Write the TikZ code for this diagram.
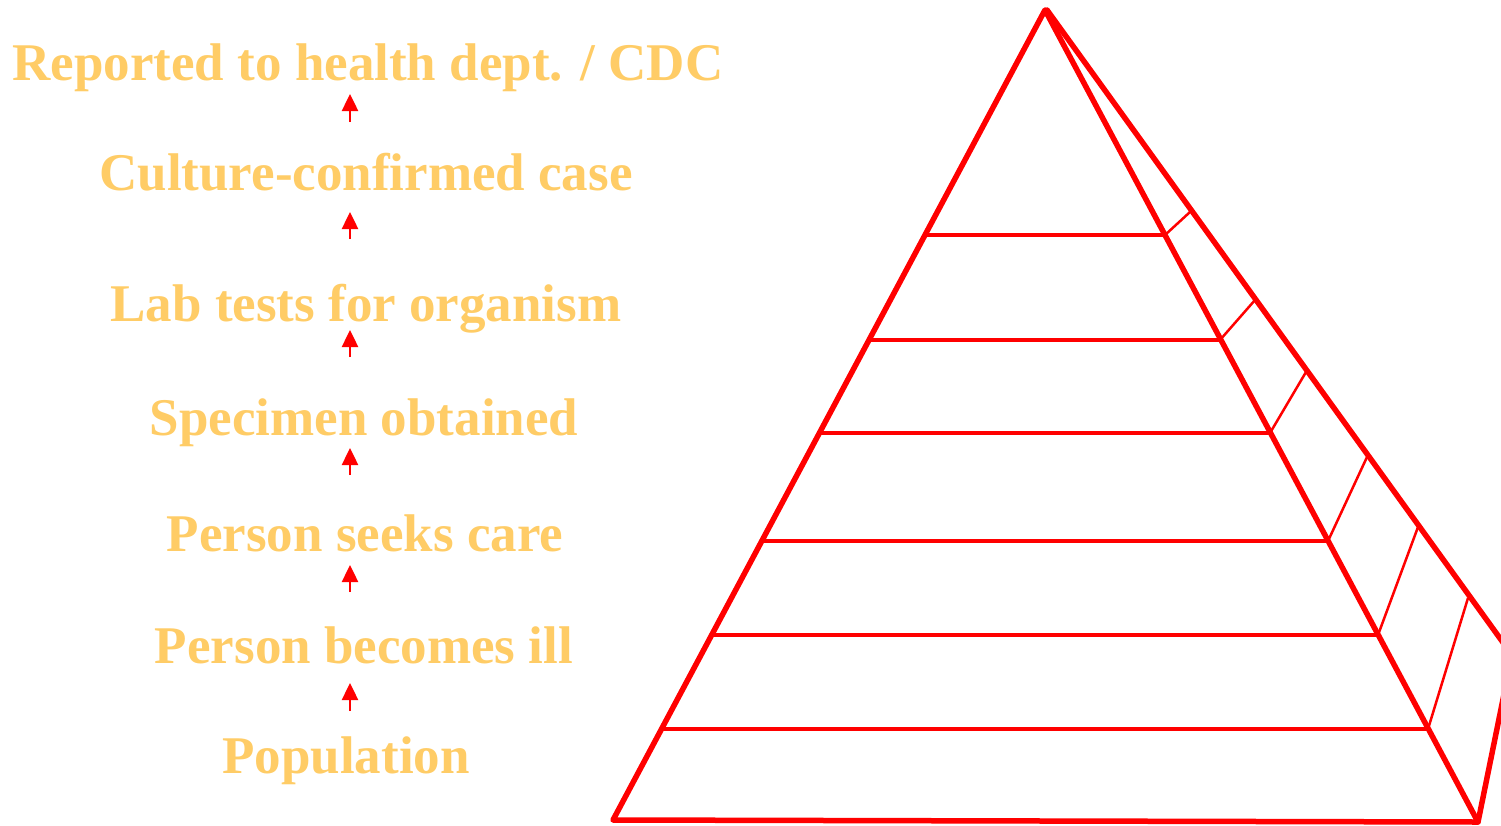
\documentclass[tikz,border=0pt]{standalone}
\usepackage{fontspec}
\setmainfont{Liberation Serif}
\usetikzlibrary{arrows.meta}
\definecolor{lab}{HTML}{FFCC66}
\definecolor{pr}{HTML}{FF0000}
\begin{document}
\begin{tikzpicture}[x=1pt,y=-1pt,
  lbl/.style={text=lab,font=\fontsize{53}{60}\selectfont\bfseries,inner sep=0pt,anchor=base},
  up/.style={draw=pr,line width=2.5pt,-{Triangle[length=17pt,width=16pt]}},
  edgeline/.style={draw=pr,line width=5.5pt,line join=round,line cap=round},
  levelline/.style={draw=pr,line width=3.5pt},
  tickline/.style={draw=pr,line width=2.5pt}]
\useasboundingbox (0,0) rectangle (1501,825);
% labels
\node[lbl] (rep) at (368,80) {Reported to health dept. / CDC};
\node[lbl] (cul) at (366,190) {Culture-confirmed case};
\node[lbl] (labt) at (366,321) {Lab tests for organism};
\node[lbl] (spe) at (364,435) {Specimen obtained};
\node[lbl] (see) at (365,551) {Person seeks care};
\node[lbl] (ill) at (364,663) {Person becomes ill};
\node[lbl] (pop) at (346,773) {Population};
% arrows
\coordinate (a1t) at (350,122); \coordinate (a1h) at (350,94);
\coordinate (a2t) at (350,239); \coordinate (a2h) at (350,212);
\coordinate (a3t) at (350,357); \coordinate (a3h) at (350,330);
\coordinate (a4t) at (350,475); \coordinate (a4h) at (350,448);
\coordinate (a5t) at (350,592); \coordinate (a5h) at (350,565);
\coordinate (a6t) at (350,711); \coordinate (a6h) at (350,683);
\foreach \i in {1,...,6} {\draw[up] (a\i t) -- (a\i h);}
% pyramid
\begin{scope}
\clip (0,0) rectangle (1501,825);
\coordinate (apex) at (1045,10);
\coordinate (apexb) at (1047,10);
\coordinate (bl) at (613,820);
\coordinate (br) at (1478,822);
\coordinate (bb) at (1512,655);
% levels
\coordinate (l1) at (925,235);  \coordinate (r1) at (1165,235); \coordinate (k1) at (1190,212);
\coordinate (l2) at (870,340);  \coordinate (r2) at (1220,340); \coordinate (k2) at (1255,300);
\coordinate (l3) at (821,433);  \coordinate (r3) at (1270,433); \coordinate (k3) at (1306,372);
\coordinate (l4) at (763,541);  \coordinate (r4) at (1328,541); \coordinate (k4) at (1367,457);
\coordinate (l5) at (713,635);  \coordinate (r5) at (1378,635); \coordinate (k5) at (1418,527);
\coordinate (l6) at (663,729);  \coordinate (r6) at (1428,729); \coordinate (k6) at (1468,598);
\foreach \i in {1,...,6} {
  \draw[levelline] (l\i) -- (r\i);
  \draw[tickline] (r\i) -- (k\i);
}
\draw[edgeline] (apexb) -- (bb) -- (br);
\draw[edgeline] (bl) -- (apex) -- (br) -- cycle;
\end{scope}
\end{tikzpicture}
\end{document}
